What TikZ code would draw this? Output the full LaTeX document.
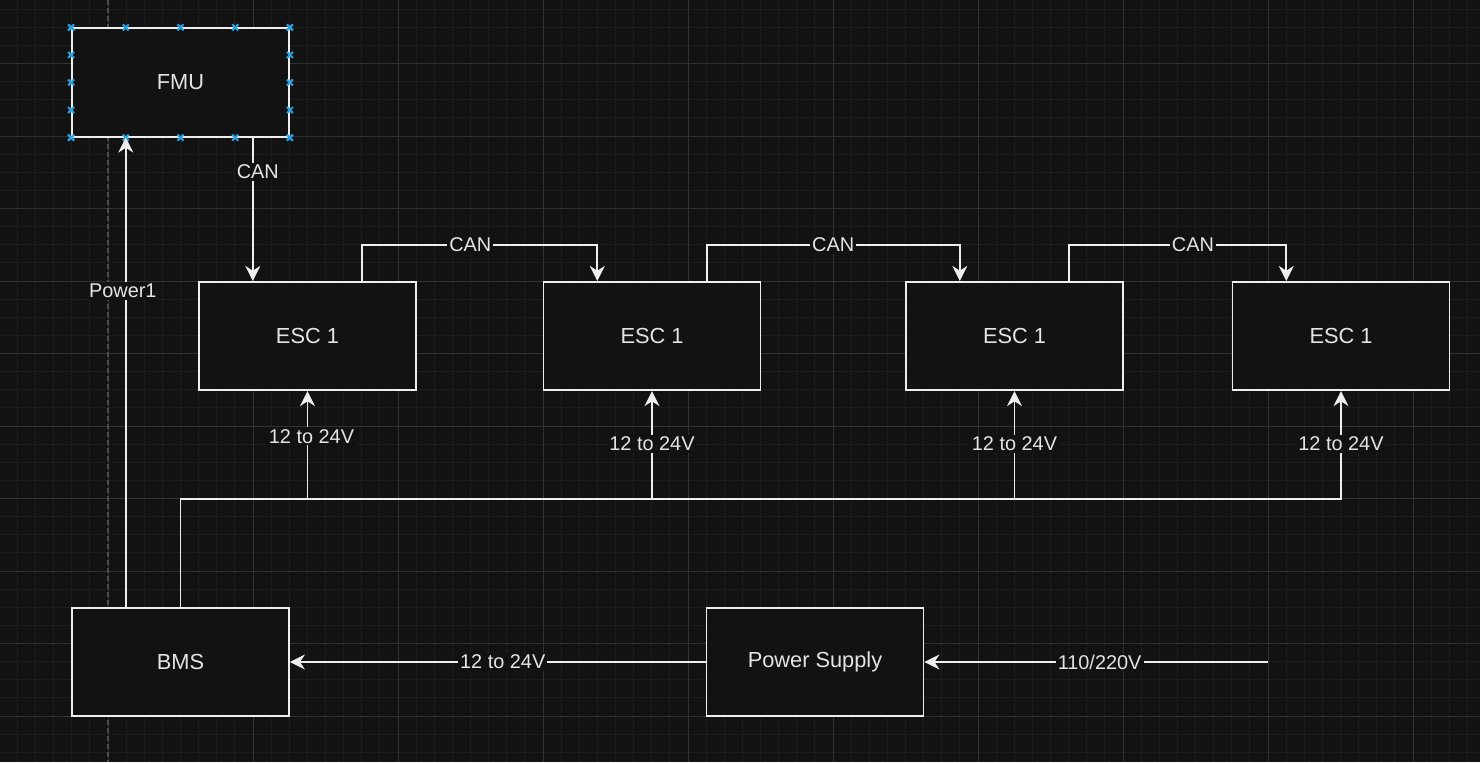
\documentclass[tikz,border=0pt]{standalone}
\usepackage{fontspec}
\setmainfont{Liberation Sans}
\usepackage{xcolor}
\usepackage{tikz}
\definecolor{dioback}{RGB}{18,18,18}
\definecolor{dioline}{RGB}{238,238,238}
\definecolor{diotext}{RGB}{228,228,228}
\definecolor{diominor}{RGB}{29,29,29}
\definecolor{diomajor}{RGB}{50,50,50}
\definecolor{dioguide}{RGB}{78,78,78}
\definecolor{diohandle}{RGB}{41,160,224}
\usetikzlibrary{arrows.meta,positioning,calc}

\begin{document}
\begin{tikzpicture}[x=0.5pt, y=-0.5pt, every node/.style={font=\fontsize{10.9}{13}\selectfont, text=diotext}]
    % Define styles
    \tikzstyle{block} = [rectangle, draw=dioline, fill=dioback, line width=0.9pt,
                         minimum width=108.5pt, minimum height=54.2pt, inner sep=0pt]
    \tikzstyle{wire} = [draw=dioline, line width=0.9pt, -{Stealth[length=7.5pt, width=7.5pt, inset=2.4pt]}]
    \tikzstyle{lbl} = [fill=dioback, inner sep=1pt, font=\fontsize{9.95}{12}\selectfont]
    \tikzstyle{handle} = [draw=diohandle, line width=1pt]

    % Page and grid
    \fill[dioback] (0,0) rectangle (1480,762);
    \useasboundingbox (0,0) rectangle (1480,762);
    \foreach \i in {0,...,82} {\draw[diominor, line width=0.5pt] (-0.75+18.125*\i,0) -- (-0.75+18.125*\i,762);}
    \foreach \j in {0,...,43} {\draw[diominor, line width=0.5pt] (0,-9+18.125*\j) -- (1480,-9+18.125*\j);}
    \foreach \i in {0,...,9} {\draw[diomajor, line width=0.5pt] (108+145*\i,0) -- (108+145*\i,762);}
    \foreach \j in {0,...,10} {\draw[diomajor, line width=0.5pt] (0,-9+72.5*\j) -- (1480,-9+72.5*\j);}
    \draw[dioguide, line width=0.6pt, dash pattern=on 2.5pt off 1.5pt] (108,0) -- (108,762);

    % Controller and ESCs
    \node[block] (fmu) at (180.5,82.5) {FMU};
    \node[block] (esc1) at (307.5,336) {ESC 1};
    \node[block] (esc2) at (652,336) {ESC 1};
    \node[block] (esc3) at (1014.5,336) {ESC 1};
    \node[block] (esc4) at (1341,336) {ESC 1};

    % Power
    \node[block] (bms) at (180.5,662) {BMS};
    \node[block] (psu) at (815,662) {Power Supply};

    % Selection handles on FMU
    \foreach \f in {0,0.25,0.5,0.75,1} {
        \foreach \a/\b in {north west/north east, south west/south east, north west/south west, north east/south east} {
            \draw[handle] ($(fmu.\a)!\f!(fmu.\b)$) +(-3,-3) -- +(3,3) +(-3,3) -- +(3,-3);
        }
    }

    % Ports
    \coordinate (p1) at ($(bms.north west)!0.25!(bms.north east)$);
    \coordinate (e1in) at ($(esc1.north west)!0.25!(esc1.north east)$);
    \coordinate (e1out) at ($(esc1.north west)!0.75!(esc1.north east)$);
    \coordinate (e2in) at ($(esc2.north west)!0.25!(esc2.north east)$);
    \coordinate (e2out) at ($(esc2.north west)!0.75!(esc2.north east)$);
    \coordinate (e3in) at ($(esc3.north west)!0.25!(esc3.north east)$);
    \coordinate (e3out) at ($(esc3.north west)!0.75!(esc3.north east)$);
    \coordinate (e4in) at ($(esc4.north west)!0.25!(esc4.north east)$);
    \coordinate (canY) at (0,245);
    \coordinate (bus) at (0,499);
    \coordinate (mains) at (1268,662);

    % CAN chain
    \draw[wire] (fmu.south -| e1in) -- node[lbl, pos=0.24, xshift=2.5pt] {CAN} (e1in);
    \draw[wire] (e1out) -- (e1out |- canY) -- node[lbl, pos=0.46] {CAN} (e2in |- canY) -- (e2in);
    \draw[wire] (e2out) -- (e2out |- canY) -- node[lbl, pos=0.5] {CAN} (e3in |- canY) -- (e3in);
    \draw[wire] (e3out) -- (e3out |- canY) -- node[lbl, pos=0.57] {CAN} (e4in |- canY) -- (e4in);

    % Power lines
    \draw[wire] (p1) -- node[lbl, pos=0.674, xshift=-1.5pt] {Power1} (fmu.south -| p1);
    \draw[wire] (bms.north) |- (bus -| esc1.south) -- node[lbl, pos=0.58, xshift=2pt] {12 to 24V} (esc1.south);
    \draw[wire] (bms.north) |- (bus -| esc2.south) -- node[lbl, pos=0.51] {12 to 24V} (esc2.south);
    \draw[wire] (bms.north) |- (bus -| esc3.south) -- node[lbl, pos=0.51] {12 to 24V} (esc3.south);
    \draw[wire] (bms.north) |- (bus -| esc4.south) -- node[lbl, pos=0.51] {12 to 24V} (esc4.south);
    \draw[wire] (psu.west) -- node[lbl, pos=0.488] {12 to 24V} (bms.east);
    \draw[wire] (mains) -- node[lbl, pos=0.49] {110/220V} (psu.east);
\end{tikzpicture}
\end{document}
